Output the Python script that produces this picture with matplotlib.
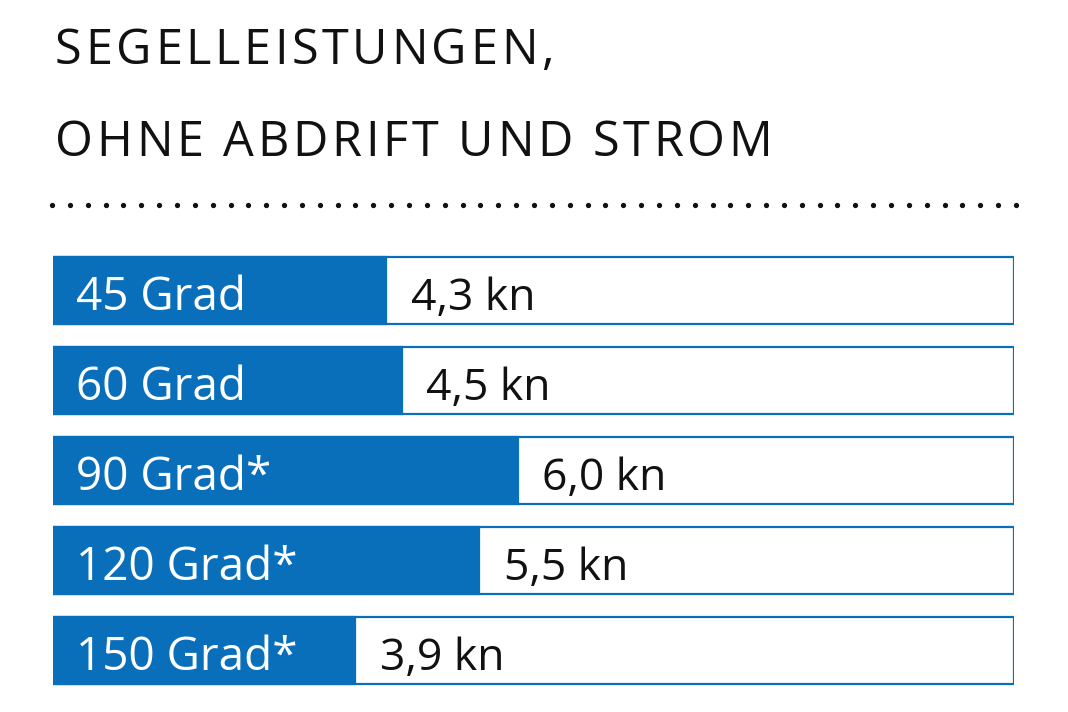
import matplotlib
matplotlib.use("Agg")
import matplotlib.pyplot as plt
import matplotlib.transforms as mtrans
from matplotlib.lines import Line2D
import numpy as np

plt.rcParams['font.family'] = ['Open Sans', 'DejaVu Sans']

title_lines = ["SEGELLEISTUNGEN,", "OHNE ABDRIFT UND STROM"]
categories = ["45 Grad", "60 Grad", "90 Grad*", "120 Grad*", "150 Grad*"]
values = [4.3, 4.5, 6.0, 5.5, 3.9]
value_labels = ["4,3 kn", "4,5 kn", "6,0 kn", "5,5 kn", "3,9 kn"]
x_max = 12.4

BLUE = '#0a6fba'
W, H = 1068, 712
fig = plt.figure(figsize=(W / 100, H / 100), dpi=100)
fig.patch.set_facecolor('white')
renderer = fig.canvas.get_renderer()

TITLE_FS = 35
title_kw = dict(fontsize=TITLE_FS, fontweight='normal', color='#111111')


def text_width(s):
    t = fig.text(0, 0, s + 'X', **title_kw)
    w1 = t.get_window_extent(renderer).width
    t.remove()
    t = fig.text(0, 0, 'X', **title_kw)
    w2 = t.get_window_extent(renderer).width
    t.remove()
    return w1 - w2


def tracked_text(x0, y_base, s, tracking):
    for k, ch in enumerate(s):
        if ch == ' ':
            continue
        xk = x0 + text_width(s[:k]) + k * tracking
        fig.text(xk / W, 1 - y_base / H, ch, va='baseline', ha='left', **title_kw)


# tracking chosen so that line 2 spans roughly 55..772 px
nat2 = text_width(title_lines[1])
tracking = (717 - nat2) / (len(title_lines[1]) - 1)
tracked_text(55, 64, title_lines[0], tracking)
tracked_text(55, 156, title_lines[1], tracking)

# dotted separator
xs = np.linspace(52, 1016, 55)
fig.add_artist(Line2D(xs / W, np.full_like(xs, 1 - 205 / H), transform=fig.transFigure,
                      linestyle='none', marker='o', markersize=3.8,
                      markerfacecolor='#111111', markeredgewidth=0))

# bars
ax = fig.add_axes([53 / W, 1 - 695.5 / H, 961 / W, 450 / H])
ypos = np.arange(len(categories))
ax.barh(ypos, [x_max] * len(ypos), height=0.744, color='white',
        edgecolor=BLUE, linewidth=1.6, zorder=1)
ax.barh(ypos, values, height=0.744, color=BLUE, edgecolor=BLUE,
        linewidth=1.6, zorder=2)
for i, (cat, v, lab) in enumerate(zip(categories, values, value_labels)):
    ax.text(0.0, i + 0.217, cat, color='white', fontsize=33, va='baseline',
            ha='left', zorder=3,
            transform=ax.transData + mtrans.ScaledTranslation(23 / 100, 0, fig.dpi_scale_trans))
    ax.annotate(lab, xy=(v, i + 0.217), xytext=(17.5, 0), textcoords='offset points',
                color='#111111', fontsize=32, va='baseline', ha='left', zorder=3)

ax.set_xlim(0, x_max)
ax.set_ylim(len(categories) - 0.5, -0.5)
ax.axis('off')

fig.savefig('out.png', dpi=100, facecolor='white')
